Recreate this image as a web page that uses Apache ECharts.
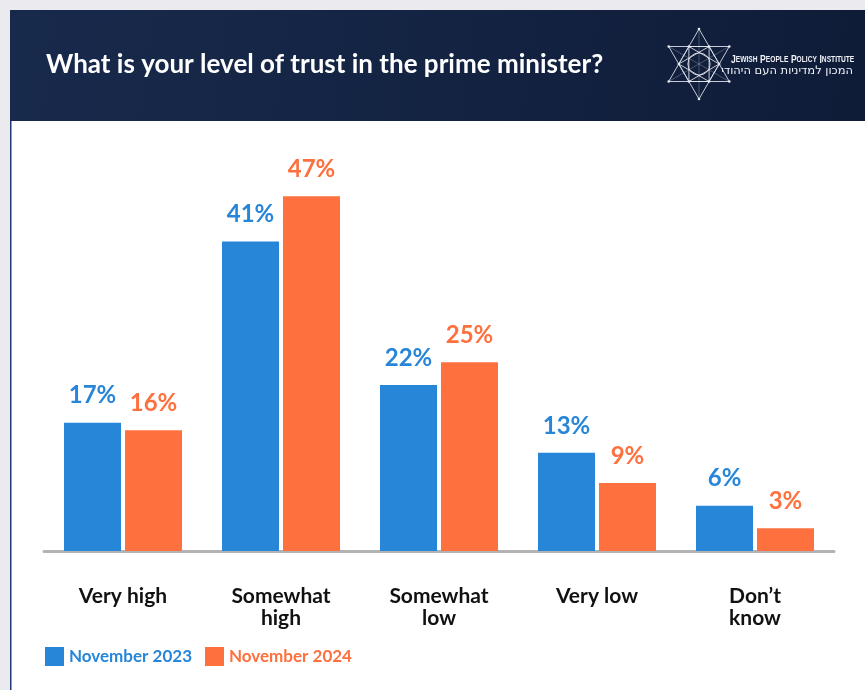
<!DOCTYPE html>
<html>
<head>
<meta charset="utf-8">
<title>Trust in the prime minister</title>
<script src="https://cdn.jsdelivr.net/npm/echarts@6/dist/echarts.min.js"></script>
<style>
  html, body { margin: 0; padding: 0; background: #ebeaef; }
  #chart { width: 865px; height: 690px; }
</style>
</head>
<body>
<div id="chart"></div>
<script>
// Survey answers and the two survey waves
const categories = ['Very high', 'Somewhat\nhigh', 'Somewhat\nlow', 'Very low', 'Don\u2019t\nknow'];
const seriesNames = ['November 2023', 'November 2024'];
const nov2023 = [17, 41, 22, 13, 6];
const nov2024 = [16, 47, 25, 9, 3];

const BLUE = '#2886d9';
const ORANGE = '#fe703d';
const FONT = 'Lato, "Noto Sans", sans-serif';

// Star-of-David emblem for the header
function emblem(cx, cy, R) {
  const pt = (deg, r) => [cx + r * Math.cos(deg * Math.PI / 180), cy + r * Math.sin(deg * Math.PI / 180)];
  const stroke = { stroke: 'rgba(230,232,240,0.85)', lineWidth: 1, fill: 'none' };
  const els = [];
  const up = [pt(-90, R), pt(30, R), pt(150, R)];
  const down = [pt(90, R), pt(-30, R), pt(210, R)];
  els.push({ type: 'polygon', shape: { points: up }, style: stroke });
  els.push({ type: 'polygon', shape: { points: down }, style: stroke });
  const r = R / Math.sqrt(3);
  const hex = [0, 60, 120, 180, 240, 300].map(a => pt(a, r));
  els.push({ type: 'polygon', shape: { points: hex }, style: stroke });
  els.push({ type: 'polygon', shape: { points: [hex[0], hex[2], hex[4]] }, style: stroke });
  els.push({ type: 'polygon', shape: { points: [hex[1], hex[3], hex[5]] }, style: stroke });
  els.push({ type: 'circle', shape: { cx: cx, cy: cy, r: r * 0.55 }, style: stroke });
  // connect outer tips through the centre
  [-90, -30, 30].forEach(a => {
    els.push({ type: 'line', shape: { x1: pt(a, R)[0], y1: pt(a, R)[1], x2: pt(a + 180, R)[0], y2: pt(a + 180, R)[1] },
      style: { stroke: 'rgba(230,232,240,0.35)', lineWidth: 0.8 } });
  });
  up.concat(down, hex).forEach(p => {
    els.push({ type: 'circle', shape: { cx: p[0], cy: p[1], r: 1.3 }, style: { fill: '#e8eaf2' } });
  });
  return els;
}

const chart = echarts.init(document.getElementById('chart'));

const option = {
  animation: false,
  graphic: [
    { type: 'rect', z: -10, shape: { x: 0, y: 0, width: 865, height: 690 }, style: { fill: '#ebeaef' } },
    { type: 'rect', z: -9, shape: { x: 10, y: 10, width: 855, height: 111 },
      style: { fill: new echarts.graphic.LinearGradient(0, 0, 1, 1, [
        { offset: 0, color: '#182a4c' }, { offset: 1, color: '#0f1c38' }]) } },
    { type: 'rect', z: -9, shape: { x: 10, y: 121, width: 855, height: 569 }, style: { fill: '#ffffff' } },
    { type: 'rect', z: -8, shape: { x: 10, y: 121, width: 1.5, height: 569 }, style: { fill: '#1d3a72' } },
    { type: 'group', z: 5, children: emblem(699, 64, 35) },
    { type: 'group', z: 5, x: 731, y: 54, scaleX: 0.78, children: [
      { type: 'text', style: {
        text: '{a|J}{b|EWISH} {a|P}{b|EOPLE} {a|P}{b|OLICY} {a|I}{b|NSTITUTE}',
        rich: {
          a: { fontSize: 11, fontWeight: 'bold', fill: '#f0f2f8', fontFamily: '"Liberation Sans", sans-serif' },
          b: { fontSize: 8.5, fontWeight: 'bold', fill: '#f0f2f8', fontFamily: '"Liberation Sans", sans-serif' }
        } } }
    ] },
    { type: 'text', z: 5, x: 853, y: 65, style: {
      text: '\u05d4\u05de\u05db\u05d5\u05df \u05dc\u05de\u05d3\u05d9\u05e0\u05d9\u05d5\u05ea \u05d4\u05e2\u05dd \u05d4\u05d9\u05d4\u05d5\u05d3\u05d9',
      align: 'right', fontSize: 11.5, fill: '#f0f2f8', fontFamily: '"DejaVu Sans", sans-serif' } }
  ],
  title: {
    text: 'What is your level of trust in the prime minister?',
    left: 41, top: 47,
    textStyle: { color: '#ffffff', fontSize: 26, fontWeight: 'bold', fontFamily: FONT }
  },
  legend: {
    left: 45, top: 647, padding: 0,
    icon: 'rect', itemWidth: 19, itemHeight: 19, itemGap: 13,
    textStyle: { fontSize: 17, fontWeight: 'bold', fontFamily: FONT },
    data: [
      { name: seriesNames[0], textStyle: { color: BLUE } },
      { name: seriesNames[1], textStyle: { color: ORANGE } }
    ]
  },
  grid: { left: 44, right: 31, top: 173.5, bottom: 139 },
  xAxis: {
    type: 'category',
    data: categories,
    axisLine: { lineStyle: { color: '#b3b3b3', width: 3 } },
    axisTick: { show: false },
    axisLabel: {
      interval: 0, margin: 34, color: '#111111',
      fontSize: 21, lineHeight: 22, fontWeight: 'bold', fontFamily: FONT
    }
  },
  yAxis: { type: 'value', min: 0, max: 50, show: false },
  series: [
    {
      name: seriesNames[0], type: 'bar', data: nov2023,
      barWidth: 57, barGap: '7%',
      itemStyle: { color: BLUE },
      label: { show: true, position: 'top', distance: 15, formatter: '{c}%',
        color: BLUE, fontSize: 24, fontWeight: 'bold', fontFamily: FONT }
    },
    {
      name: seriesNames[1], type: 'bar', data: nov2024,
      barWidth: 57, barGap: '7%',
      itemStyle: { color: ORANGE },
      label: { show: true, position: 'top', distance: 15, formatter: '{c}%',
        color: ORANGE, fontSize: 24, fontWeight: 'bold', fontFamily: FONT }
    }
  ]
};

chart.setOption(option);
</script>
</body>
</html>
